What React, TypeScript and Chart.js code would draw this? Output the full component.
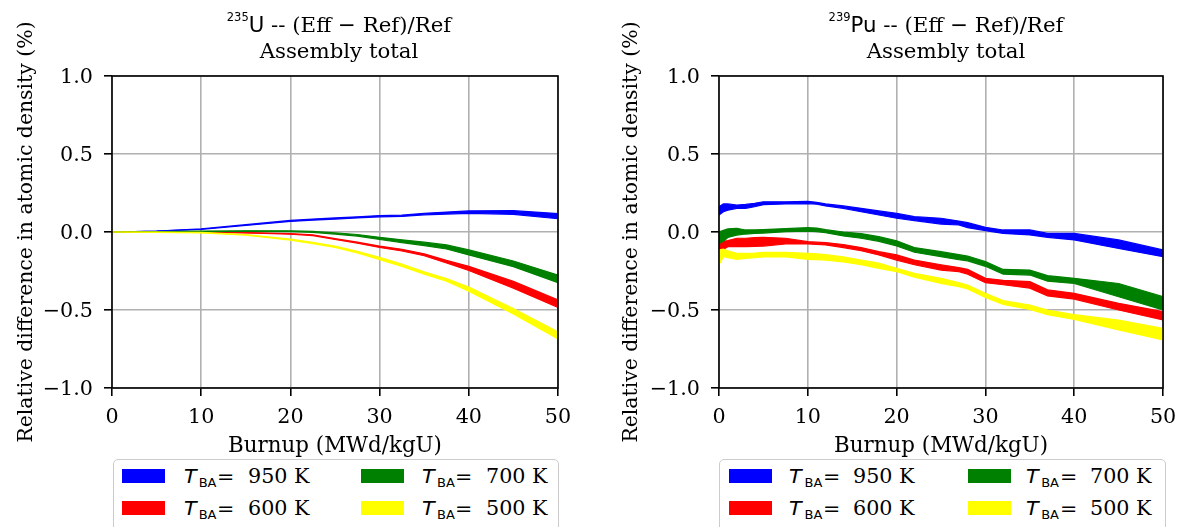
import React, { useEffect, useRef } from "react";
import { Chart, registerables } from "chart.js";

Chart.register(...registerables);

// ---- U-235 panel: burnup steps (MWd/kgU) and band limits (%) ----
const burnupU = [0, 5, 10, 15, 20, 22.5, 25, 27.5, 30, 32.5, 35, 37.5, 40, 45, 50];
const u235Hi950 = [0, 0.006, 0.02, 0.047, 0.074, 0.083, 0.09, 0.097, 0.105, 0.108, 0.12, 0.128, 0.135, 0.137, 0.118];
const u235Lo950 = [0, 0.005, 0.017, 0.042, 0.068, 0.076, 0.083, 0.09, 0.097, 0.1, 0.11, 0.115, 0.12, 0.113, 0.085];
const u235Hi700 = [0, 0.002, 0.005, 0.008, 0.008, 0.004, -0.006, -0.016, -0.034, -0.05, -0.065, -0.083, -0.115, -0.186, -0.276];
const u235Lo700 = [0, 0.001, 0.003, 0.004, 0.003, -0.002, -0.013, -0.026, -0.048, -0.068, -0.087, -0.109, -0.147, -0.222, -0.325];
const u235Hi600 = [0, 0, -0.001, -0.004, -0.011, -0.018, -0.042, -0.065, -0.09, -0.111, -0.14, -0.182, -0.22, -0.316, -0.436];
const u235Lo600 = [0, -0.001, -0.002, -0.006, -0.014, -0.023, -0.048, -0.072, -0.099, -0.122, -0.152, -0.198, -0.247, -0.36, -0.483];
const u235Hi500 = [0, -0.001, -0.003, -0.016, -0.046, -0.066, -0.09, -0.124, -0.163, -0.206, -0.255, -0.298, -0.353, -0.49, -0.64];
const u235Lo500 = [0, -0.002, -0.005, -0.02, -0.053, -0.074, -0.099, -0.134, -0.177, -0.22, -0.27, -0.316, -0.38, -0.525, -0.686];

// ---- Pu-239 panel ----
const burnupPu = [0, 0.5, 1, 2, 3, 4, 5, 7.5, 10, 11, 12, 14, 16, 18, 20, 22, 25, 27, 28, 30, 32, 35, 37, 40, 45, 50];
const pu239Hi950 = [0.162, 0.18, 0.18, 0.173, 0.177, 0.184, 0.194, 0.194, 0.197, 0.19, 0.18, 0.167, 0.152, 0.135, 0.12, 0.098, 0.088, 0.07, 0.06, 0.03, 0.013, 0.013, -0.009, -0.009, -0.051, -0.115];
const pu239Lo950 = [0.109, 0.13, 0.14, 0.152, 0.152, 0.162, 0.175, 0.18, 0.182, 0.178, 0.167, 0.152, 0.13, 0.109, 0.088, 0.073, 0.051, 0.045, 0.028, 0.009, -0.009, -0.019, -0.034, -0.051, -0.105, -0.158];
const pu239Hi700 = [0.0, 0.01, 0.02, 0.024, 0.013, 0.013, 0.015, 0.022, 0.028, 0.025, 0.015, 0.0, -0.01, -0.03, -0.056, -0.1, -0.126, -0.145, -0.155, -0.19, -0.24, -0.244, -0.28, -0.297, -0.33, -0.415];
const pu239Lo700 = [-0.073, -0.06, -0.035, -0.02, -0.013, -0.009, -0.007, 0.002, 0.006, 0.003, -0.005, -0.025, -0.04, -0.06, -0.09, -0.13, -0.158, -0.178, -0.185, -0.22, -0.27, -0.276, -0.315, -0.33, -0.415, -0.5];
const pu239Hi600 = [-0.051, -0.06, -0.055, -0.04, -0.04, -0.036, -0.034, -0.04, -0.062, -0.065, -0.068, -0.08, -0.1, -0.126, -0.147, -0.18, -0.21, -0.228, -0.24, -0.297, -0.31, -0.318, -0.37, -0.393, -0.457, -0.51];
const pu239Lo600 = [-0.126, -0.11, -0.094, -0.094, -0.094, -0.092, -0.09, -0.077, -0.077, -0.08, -0.083, -0.1, -0.12, -0.147, -0.18, -0.21, -0.244, -0.254, -0.27, -0.325, -0.338, -0.36, -0.41, -0.43, -0.5, -0.564];
const pu239Hi500 = [-0.115, -0.11, -0.12, -0.137, -0.137, -0.135, -0.13, -0.13, -0.137, -0.14, -0.145, -0.16, -0.18, -0.2, -0.233, -0.265, -0.297, -0.325, -0.34, -0.393, -0.44, -0.468, -0.5, -0.53, -0.564, -0.618];
const pu239Lo500 = [-0.21, -0.158, -0.165, -0.175, -0.17, -0.165, -0.16, -0.16, -0.175, -0.177, -0.18, -0.192, -0.21, -0.233, -0.254, -0.29, -0.33, -0.35, -0.365, -0.42, -0.465, -0.496, -0.53, -0.56, -0.628, -0.692];

// ---- axes ----
const xTicks = [0, 10, 20, 30, 40, 50];
const yTicks = [-1.0, -0.5, 0.0, 0.5, 1.0];
const temperatures = ["950", "600", "700", "500"];
const tempColors: Record<string, string> = { "950": "#0000ff", "600": "#ff0000", "700": "#008000", "500": "#ffff00" };

const SERIF = "'DejaVu Serif', serif";
const SANS = "'DejaVu Sans', sans-serif";
const H = 527;

type Band = { temp: string; hi: number[]; lo: number[] };

const uBands: Band[] = [
  { temp: "950", hi: u235Hi950, lo: u235Lo950 },
  { temp: "600", hi: u235Hi600, lo: u235Lo600 },
  { temp: "700", hi: u235Hi700, lo: u235Lo700 },
  { temp: "500", hi: u235Hi500, lo: u235Lo500 },
];
const puBands: Band[] = [
  { temp: "950", hi: pu239Hi950, lo: pu239Lo950 },
  { temp: "600", hi: pu239Hi600, lo: pu239Lo600 },
  { temp: "700", hi: pu239Hi700, lo: pu239Lo700 },
  { temp: "500", hi: pu239Hi500, lo: pu239Lo500 },
];

const minusFmt = (v: number) => {
  if (Math.abs(v) < 1e-9) return "0.0";
  const s = v.toFixed(1);
  return s.startsWith("-") ? "\u2212" + s.slice(1) : s;
};

// black frame around the plotting area
const framePlugin = {
  id: "frame",
  afterDatasetsDraw(chart: any) {
    const { ctx, chartArea: a } = chart;
    ctx.save();
    ctx.strokeStyle = "#000";
    ctx.lineWidth = 1.6;
    ctx.strokeRect(a.left, a.top, a.right - a.left, a.bottom - a.top);
    ctx.restore();
  },
};

function buildDatasets(x: number[], bands: Band[]) {
  const sets: any[] = [];
  // later bands are drawn on top, so list them first
  [...bands].reverse().forEach((b) => {
    const c = tempColors[b.temp];
    const common = { borderColor: c, backgroundColor: c, borderWidth: 1.2, pointRadius: 0, tension: 0 };
    sets.push({ ...common, label: b.temp + " K", data: x.map((v, i) => ({ x: v, y: b.hi[i] })), fill: "+1" });
    sets.push({ ...common, label: b.temp + " K lower", data: x.map((v, i) => ({ x: v, y: b.lo[i] })), fill: false });
  });
  return sets;
}

function BandChart(props: { left: number; width: number; x: number[]; bands: Band[]; axisWidth: number; padRight: number; yTitlePad: number }) {
  const ref = useRef<HTMLCanvasElement>(null);
  useEffect(() => {
    const gridOpts = { color: "#b0b0b0", lineWidth: 1.6, tickLength: 8, tickColor: "#000", tickWidth: 1.6, drawTicks: true };
    const tickFont = { family: SERIF, size: 20.7 };
    const chart = new Chart(ref.current as HTMLCanvasElement, {
      type: "line",
      data: { datasets: buildDatasets(props.x, props.bands) },
      plugins: [framePlugin],
      options: {
        responsive: false,
        animation: false,
        events: [],
        layout: { padding: { left: 0, top: 76, right: props.padRight, bottom: H - 388 - 75 } },
        plugins: { legend: { display: false }, tooltip: { enabled: false } },
        scales: {
          x: {
            type: "linear",
            min: 0,
            max: 50,
            afterFit: (s: any) => { s.height = 75; },
            afterBuildTicks: (s: any) => { s.ticks = xTicks.map((v) => ({ value: v })); },
            border: { display: false },
            grid: gridOpts,
            ticks: { padding: 8.8, color: "#000", font: tickFont, callback: (v: any) => String(v) },
            title: { display: true, text: "Burnup (MWd/kgU)", color: "#000", font: { family: SERIF, size: 21.4 }, padding: { top: 0, bottom: 3.6 } },
          },
          y: {
            type: "linear",
            min: -1,
            max: 1,
            afterFit: (s: any) => { s.width = props.axisWidth; },
            afterBuildTicks: (s: any) => { s.ticks = yTicks.map((v) => ({ value: v })); },
            border: { display: false },
            grid: gridOpts,
            ticks: { padding: 11, labelOffset: 2, color: "#000", font: tickFont, callback: (v: any) => minusFmt(Number(v)) },
            title: { display: true, text: "Relative difference in atomic density (%)", color: "#000", font: { family: SERIF, size: 20.4 }, padding: { top: props.yTitlePad, bottom: 0 } },
          },
        },
      } as any,
    });
    return () => chart.destroy();
  }, []);
  return <canvas ref={ref} width={props.width} height={H} style={{ position: "absolute", left: props.left, top: 0, width: props.width, height: H }} />;
}

// text placed so that its baseline sits at y
function Txt(props: { x: number; y: number; size: number; family: string; italic?: boolean; children: React.ReactNode; center?: boolean; sx?: number }) {
  const transforms: string[] = [];
  if (props.center) transforms.push("translateX(-50%)");
  if (props.sx) transforms.push(`scaleX(${props.sx})`);
  return (
    <div
      style={{
        position: "absolute",
        left: props.x,
        top: props.y - 0.846 * props.size,
        fontSize: props.size,
        lineHeight: props.size + "px",
        fontFamily: props.family,
        fontStyle: props.italic ? "italic" : "normal",
        whiteSpace: "nowrap",
        color: "#000",
        transformOrigin: "left center",
        transform: transforms.length ? transforms.join(" ") : undefined,
      }}
    >
      {props.children}
    </div>
  );
}

function PanelTitle(props: { cx: number; mass: string; symbol: string }) {
  return (
    <>
      <Txt x={props.cx} y={32} size={21.3} family={SERIF} center>
        <span style={{ fontFamily: SANS, fontSize: 11.5, position: "relative", top: -10.5, lineHeight: 0 }}>{props.mass}</span>
        <span style={{ fontFamily: SANS }}>{props.symbol}</span>
        {" -- (Eff "}
        <span style={{ fontFamily: SANS }}>{"\u2212"}</span>
        {" Ref)/Ref"}
      </Txt>
      <Txt x={props.cx} y={58} size={21.3} family={SERIF} center>
        Assembly total
      </Txt>
    </>
  );
}

function LegendEntry(props: { px: number; tx: number; y: number; temp: string }) {
  const fs = 19.5;
  const sx = 1.06;
  return (
    <>
      <div style={{ position: "absolute", left: props.px, top: props.y - 14, width: 43, height: 14, background: tempColors[props.temp] }} />
      <Txt x={props.tx} y={props.y} size={fs} family={SANS} italic sx={sx}>T</Txt>
      <Txt x={props.tx + 15.2} y={props.y + 3.8} size={13} family={SANS}>BA</Txt>
      <Txt x={props.tx + 33.5} y={props.y} size={fs} family={SANS} sx={sx}>=</Txt>
      <Txt x={props.tx + 64} y={props.y} size={fs} family={SERIF} sx={sx}>{props.temp + " K"}</Txt>
    </>
  );
}

function PanelLegend(props: { boxLeft: number; boxWidth: number; p1: number; t1: number; p2: number; t2: number }) {
  const rows = [483, 515.3];
  return (
    <>
      <div
        style={{
          position: "absolute",
          left: props.boxLeft,
          top: 458.5,
          width: props.boxWidth,
          height: 90,
          border: "1.3px solid #cccccc",
          borderRadius: 5,
          background: "#ffffff",
          boxSizing: "border-box",
        }}
      />
      <LegendEntry px={props.p1} tx={props.t1} y={rows[0]} temp={temperatures[0]} />
      <LegendEntry px={props.p1} tx={props.t1} y={rows[1]} temp={temperatures[1]} />
      <LegendEntry px={props.p2} tx={props.t2} y={rows[0]} temp={temperatures[2]} />
      <LegendEntry px={props.p2} tx={props.t2} y={rows[1]} temp={temperatures[3]} />
    </>
  );
}

export default function App() {
  return (
    <div style={{ position: "absolute", left: 0, top: 0, width: 1185, height: H, overflow: "hidden", background: "#fff" }}>
      <BandChart left={0} width={592} x={burnupU} bands={uBands} axisWidth={112} padRight={34} yTitlePad={14.5} />
      <BandChart left={592} width={593} x={burnupPu} bands={puBands} axisWidth={127} padRight={19.5} yTitlePad={27.5} />
      <PanelTitle cx={339} mass="235" symbol="U" />
      <PanelTitle cx={946} mass="239" symbol="Pu" />
      <PanelLegend boxLeft={112.5} boxWidth={446.5} p1={121.5} t1={183.5} p2={360.5} t2={421.8} />
      <PanelLegend boxLeft={719} boxWidth={447} p1={728.8} t1={789.3} p2={967.8} t2={1026} />
    </div>
  );
}
